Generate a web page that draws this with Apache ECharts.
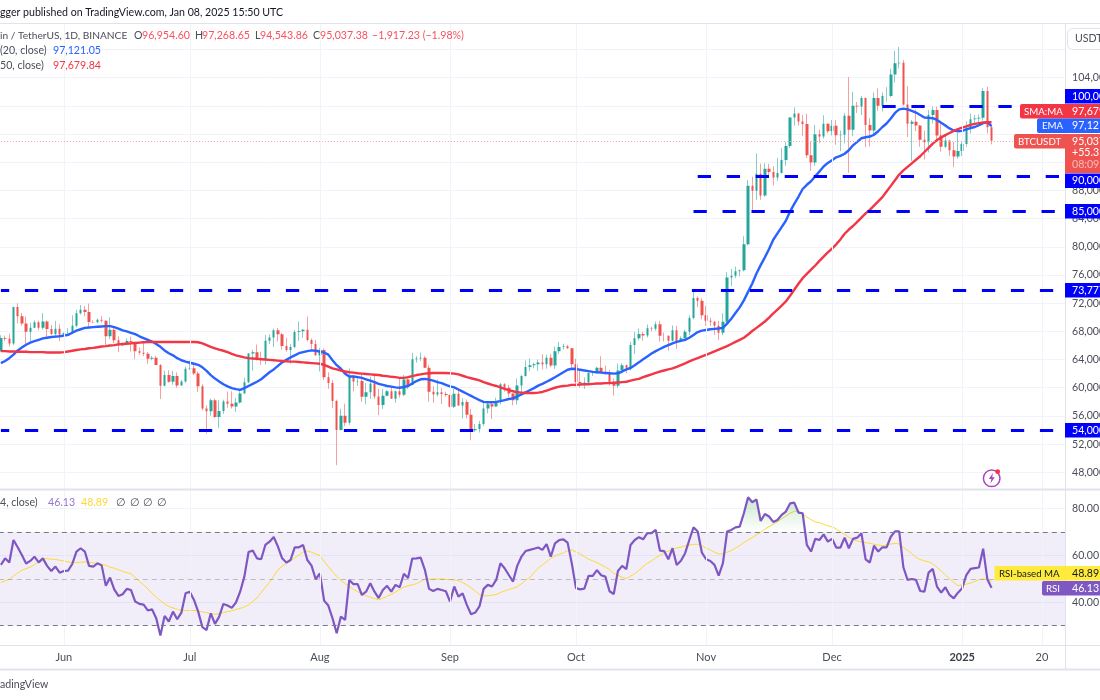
<!DOCTYPE html>
<html lang="en">
<head>
  <meta charset="UTF-8">
  <title>BTCUSDT 1D</title>
  <script src="https://cdn.jsdelivr.net/npm/echarts@6/dist/echarts.min.js"></script>
  <style>
    * { margin: 0; padding: 0; }
    html, body { width: 100%; height: 100%; background: #fff; overflow: hidden; }
    #chartbox { width: 1100px; height: 700px; }
  </style>
</head>
<body>
<div id="chartbox"></div>
<script>
  // prices are in thousand USDT, one row per day from 2024-05-17
  // open, close, low, high
  const candles = [
    [65.23,67.05,65.10,67.45],[67.05,66.94,66.60,67.40],[66.94,66.27,65.85,67.70],[66.27,71.45,66.05,71.50],[71.45,70.14,69.15,71.98],
    [70.14,69.12,68.80,70.62],[69.12,67.93,66.10,70.10],[67.93,68.53,66.60,69.22],[68.53,69.28,68.50,69.58],[69.28,68.50,68.15,69.50],
    [68.50,69.40,68.25,70.60],[69.40,68.35,67.20,69.56],[68.35,67.63,67.50,68.90],[67.63,68.36,67.13,69.50],[68.36,67.54,66.60,69.00],
    // Jun
    [67.54,67.75,67.38,67.86],[67.75,67.76,67.30,68.45],[67.76,68.80,67.61,70.28],[68.80,70.57,68.57,71.06],[70.57,71.08,70.40,71.75],
    [71.08,70.76,70.12,71.60],[70.76,69.34,68.50,71.95],[69.34,69.31,69.20,69.57],[69.31,69.65,69.13,69.85],[69.65,69.51,69.23,70.15],
    [69.51,67.32,66.05,69.56],[67.32,68.24,66.90,70.00],[68.24,66.75,66.30,68.45],[66.75,66.01,65.08,67.30],[66.01,66.19,65.88,66.40],
    [66.19,66.64,66.06,66.98],[66.64,66.49,65.13,67.25],[66.49,65.17,64.06,66.55],[65.17,64.96,64.69,65.73],[64.96,64.83,64.50,66.48],
    [64.83,64.10,63.38,65.07],[64.10,64.26,63.90,64.52],[64.26,63.21,63.20,64.52],[63.21,60.28,58.40,63.37],[60.28,61.80,60.20,62.43],
    [61.80,60.86,60.71,62.48],[60.86,61.68,60.43,62.37],[61.68,60.32,60.00,62.19],[60.32,60.89,60.27,61.13],[60.89,62.68,60.70,63.00],
    // Jul
    [62.68,62.75,62.50,63.86],[62.75,62.02,61.80,63.28],[62.02,60.20,59.40,62.30],[60.20,57.04,56.77,60.50],[57.04,56.66,53.48,57.50],
    [56.66,58.23,56.02,58.47],[58.23,55.86,55.73,58.47],[55.86,56.71,54.26,58.24],[56.71,58.04,56.29,58.30],[58.04,57.72,57.16,59.47],
    [57.72,57.34,57.05,59.50],[57.34,57.89,56.59,58.53],[57.89,59.20,57.75,59.85],[59.20,60.79,59.20,61.42],[60.79,64.87,60.65,64.90],
    [64.87,65.04,62.43,65.39],[65.04,64.09,63.85,66.13],[64.09,63.99,63.24,65.10],[63.99,66.66,63.30,67.48],[66.66,67.14,66.22,67.60],
    [67.14,68.16,65.78,68.37],[68.16,67.58,66.55,68.47],[67.58,65.93,65.42,67.80],[65.93,65.37,65.12,67.10],[65.37,65.78,63.40,66.17],
    [65.78,67.90,65.60,68.20],[67.90,68.00,66.65,69.40],[68.00,68.24,67.07,68.32],[68.24,66.78,66.57,70.08],[66.78,66.19,65.30,67.00],
    [66.19,64.62,64.53,66.80],
    // Aug
    [64.62,65.35,62.30,65.66],[65.35,61.50,61.11,65.59],[61.50,60.68,59.85,62.20],[60.68,58.12,57.12,61.12],[58.12,53.99,49.00,58.30],
    [53.99,56.04,53.96,57.00],[56.04,55.03,54.56,57.73],[55.03,61.70,54.73,62.73],[61.70,60.88,59.50,61.80],[60.88,60.94,60.24,61.47],
    [60.94,58.71,58.00,61.85],[58.71,59.35,57.65,60.68],[59.35,60.60,58.40,61.57],[60.60,58.74,58.43,61.80],[58.74,57.56,56.08,59.85],
    [57.56,58.88,57.00,59.84],[58.88,59.50,58.78,59.68],[59.50,58.44,58.42,60.26],[58.44,59.49,57.86,59.62],[59.49,59.01,58.60,61.40],
    [59.01,61.16,58.80,61.80],[61.16,60.38,59.80,61.41],[60.38,64.04,60.35,64.95],[64.04,64.16,63.56,64.50],[64.16,64.25,63.79,64.99],
    [64.25,62.83,62.80,64.48],[62.83,59.42,58.03,63.23],[59.42,59.03,57.85,60.20],[59.03,59.37,58.74,61.18],[59.37,59.12,57.70,59.95],
    [59.12,58.97,58.72,59.43],
    // Sep
    [58.97,57.30,57.20,59.06],[57.30,59.13,57.12,59.81],[59.13,57.49,57.42,59.81],[57.49,57.97,55.60,58.51],[57.97,56.18,55.62,58.32],
    [56.18,53.96,52.55,56.99],[53.96,54.16,53.74,54.85],[54.16,54.87,53.65,55.30],[54.87,57.05,54.59,58.12],[57.05,57.65,56.38,58.04],
    [57.65,57.34,55.55,58.00],[57.34,58.13,57.32,58.59],[58.13,60.50,57.63,60.67],[60.50,60.00,59.45,60.66],[60.00,59.18,58.70,60.40],
    [59.18,58.21,57.50,59.21],[58.21,60.31,57.61,61.32],[60.31,61.65,59.17,61.79],[61.65,62.94,61.57,63.87],[62.94,63.20,62.35,64.13],
    [63.20,63.35,62.76,63.56],[63.35,63.58,62.38,64.00],[63.58,63.34,62.60,64.75],[63.34,64.26,62.70,64.69],[64.26,63.15,62.95,64.80],
    [63.15,65.18,62.67,65.84],[65.18,65.77,64.80,66.50],[65.77,65.88,65.42,66.26],[65.88,65.60,65.50,66.07],[65.60,63.33,62.86,65.62],
    // Oct
    [63.33,60.80,60.16,64.13],[60.80,60.65,60.00,62.39],[60.65,60.75,59.83,61.47],[60.75,62.08,60.46,62.48],[62.08,62.09,61.68,62.37],
    [62.09,62.82,61.99,62.97],[62.82,62.22,62.13,64.48],[62.22,62.13,61.84,63.17],[62.13,60.58,60.30,62.53],[60.58,60.27,58.90,61.32],
    [60.27,62.45,60.00,63.42],[62.45,63.19,62.40,63.48],[63.19,62.85,62.05,63.29],[62.85,66.05,62.45,66.50],[66.05,67.04,64.80,67.95],
    [67.04,67.61,66.75,68.42],[67.61,67.40,66.66,67.94],[67.40,68.43,67.12,68.98],[68.43,68.36,68.02,68.67],[68.36,69.00,68.10,69.40],
    [69.00,67.37,66.53,69.50],[67.37,67.36,66.57,67.83],[67.36,66.68,65.26,67.40],[66.68,68.17,66.56,68.85],[68.17,66.63,65.52,68.77],
    [66.63,67.01,66.60,67.30],[67.01,67.96,66.80,68.22],[67.96,69.91,67.50,70.27],[69.91,72.72,69.73,73.62],[72.72,72.34,71.44,72.96],
    [72.34,70.29,69.68,72.70],
    // Nov
    [70.29,69.50,68.78,71.63],[69.50,69.37,68.77,69.95],[69.37,68.78,67.48,69.48],[68.78,67.81,66.80,69.48],[67.81,69.36,67.45,70.58],
    [69.36,75.64,69.07,76.40],[75.64,75.90,74.42,76.85],[75.90,76.54,75.55,77.20],[76.54,76.67,75.82,76.77],[76.67,80.37,76.50,81.50],
    [80.37,88.65,80.22,89.50],[88.65,87.95,85.07,89.94],[87.95,90.37,86.62,93.26],[90.37,87.27,86.67,91.79],[87.27,91.06,87.10,91.85],
    [91.06,90.60,90.05,91.78],[90.60,89.85,88.72,91.45],[89.85,90.46,89.38,92.59],[90.46,92.31,90.41,94.00],[92.31,94.29,91.50,94.90],
    [94.29,98.35,94.03,98.40],[98.35,98.90,97.20,99.80],[98.90,97.78,97.20,99.00],[97.78,97.43,95.75,98.70],[97.43,92.98,92.60,98.87],
    [92.98,91.95,90.79,94.95],[91.95,95.96,91.50,97.30],[95.96,95.64,94.70,96.65],[95.64,97.46,95.35,98.67],[97.46,96.40,96.10,97.50],
    // Dec
    [96.40,97.18,95.80,98.00],[97.18,95.84,94.48,98.00],[95.84,95.90,93.58,96.50],[95.90,98.59,94.66,99.00],[98.59,96.60,90.50,104.09],
    [96.60,100.00,95.70,102.00],[100.00,99.90,99.00,100.56],[99.90,101.10,98.70,101.40],[101.10,97.30,94.15,101.20],[97.30,96.50,94.25,98.27],
    [96.50,101.10,95.67,101.90],[101.10,100.00,99.30,102.50],[100.00,101.40,99.20,101.90],[101.40,101.40,100.60,102.65],[101.40,104.45,101.23,105.25],
    [104.45,106.06,103.30,107.80],[106.06,106.13,105.30,108.35],[106.13,100.20,100.00,106.50],[100.20,97.47,95.60,102.80],[97.47,97.75,92.20,98.00],
    [97.75,97.20,96.40,99.50],[97.20,95.20,94.20,97.30],[95.20,94.85,92.40,96.50],[94.85,98.70,93.40,99.40],[98.70,99.40,97.50,99.90],
    [99.40,95.80,95.10,99.90],[95.80,94.20,93.50,97.50],[94.20,95.10,94.00,95.70],[95.10,93.70,92.90,95.20],[93.70,92.80,91.30,94.90],
    [92.80,93.58,92.50,96.15],
    // Jan
    [93.58,94.59,92.90,95.00],[94.59,96.90,94.20,97.80],[96.90,98.10,96.10,98.90],[98.10,98.20,97.50,98.70],[98.20,98.30,97.25,98.80],
    [98.30,102.10,97.90,102.50],[102.10,96.95,96.10,102.70],[96.95,95.04,94.54,97.27]
  ]

  const ema20 = [
    63.5,63.8,64.2,64.7,65.3,65.7,66.1,66.4,66.6,66.8,67.0,67.1,67.2,67.25,67.3,
    67.4,67.5,67.8,68.1,68.3,68.5,68.55,68.6,68.65,68.7,68.75,68.75,68.6,68.4,68.15,68.0,67.8,67.6,67.3,67.05,66.8,66.55,66.2,65.8,65.3,64.9,64.6,64.2,63.9,63.7,
    63.55,63.4,63.25,62.9,62.4,61.8,61.3,60.9,60.5,60.2,59.95,59.8,59.7,59.95,60.25,60.55,60.85,61.2,61.7,62.2,62.6,63.1,63.6,63.95,64.3,64.6,64.9,65.05,65.2,65.3,65.25,
    65.15,65.0,64.7,63.9,63.2,62.7,62.0,61.6,61.6,61.5,61.4,61.2,61.0,60.8,60.55,60.4,60.25,60.15,60.05,60.0,60.1,60.25,60.6,60.95,61.2,61.25,61.15,61.0,60.8,60.65,60.4,
    60.2,60.05,59.75,59.45,59.15,58.85,58.55,58.25,58.0,57.95,57.95,58.0,58.1,58.25,58.4,58.5,58.75,59.05,59.35,59.65,59.95,60.3,60.55,60.85,61.15,61.5,61.85,62.2,62.55,62.7,
    62.65,62.55,62.45,62.35,62.25,62.2,62.15,62.1,62.05,62.0,62.05,62.3,62.6,62.8,63.2,63.6,64.05,64.45,64.85,65.2,65.5,65.8,66.05,66.3,66.5,66.65,66.8,67.1,67.5,67.9,68.1,
    68.2,68.3,68.35,68.4,68.5,69.1,69.8,70.6,71.4,72.4,73.6,74.8,76.2,77.4,78.5,79.7,81.0,81.9,82.8,83.7,85.0,86.1,87.1,88.2,88.8,89.3,90.0,90.7,91.4,91.9,
    92.3,92.7,92.9,93.2,93.7,94.4,94.9,95.4,95.55,95.65,95.9,96.4,97.0,97.5,98.2,99.0,99.5,99.6,99.5,99.3,99.05,98.7,98.35,98.3,98.25,98.0,97.6,97.2,96.8,96.5,96.4,
    96.45,96.65,96.85,97.0,97.25,97.55,97.7,97.12
  ]

  const sma50 = [
    65.2,65.2,65.15,65.15,65.1,65.1,65.1,65.05,65.05,65.05,65.05,65.0,65.0,65.0,65.0,
    65.05,65.15,65.25,65.35,65.45,65.5,65.6,65.65,65.75,65.85,65.9,66.0,66.05,66.15,66.2,66.25,66.3,66.35,66.4,66.45,66.5,66.5,66.5,66.5,66.5,66.5,66.5,66.5,66.5,66.5,
    66.5,66.5,66.45,66.3,66.05,65.8,65.6,65.4,65.25,65.05,64.8,64.6,64.45,64.3,64.2,64.15,64.1,64.05,64.0,63.95,63.9,63.85,63.8,63.75,63.7,63.7,63.65,63.6,63.55,63.5,63.45,
    63.4,63.25,63.0,62.75,62.6,62.45,62.3,62.2,62.15,62.05,62.0,61.95,61.9,61.85,61.8,61.7,61.65,61.55,61.5,61.4,61.4,61.5,61.65,61.8,61.9,62.0,62.05,62.1,62.1,62.1,62.1,
    62.05,62.0,61.9,61.7,61.5,61.35,61.2,61.05,60.8,60.6,60.4,60.25,60.05,59.85,59.65,59.5,59.35,59.3,59.25,59.25,59.25,59.3,59.4,59.6,59.8,60.0,60.15,60.25,60.3,60.4,
    60.4,60.45,60.5,60.5,60.55,60.6,60.6,60.65,60.65,60.7,60.75,60.8,60.85,61.0,61.15,61.25,61.5,61.7,61.9,62.1,62.3,62.45,62.6,62.75,62.95,63.2,63.45,63.75,64.0,64.2,64.45,
    64.65,64.9,65.15,65.4,65.65,65.9,66.2,66.5,66.8,67.1,67.55,68.05,68.5,68.95,69.4,69.95,70.55,71.1,71.65,72.25,73.05,73.9,74.75,75.55,76.15,76.75,77.35,78.0,78.6,79.2,
    79.75,80.35,81.05,81.85,82.45,82.95,83.55,84.15,84.75,85.25,85.85,86.45,87.05,87.85,88.65,89.45,90.25,90.85,91.35,91.85,92.35,92.85,93.45,94.05,94.65,95.15,95.5,95.85,96.15,96.45,96.7,
    96.9,97.1,97.3,97.45,97.55,97.65,97.68,97.68
  ]

  const rsi = [
    55.9,58.7,56.9,66.5,63.4,60.1,56.5,57.6,59.4,57.0,58.7,55.5,53.3,55.2,52.6,
    53.3,53.5,56.3,61.6,63.0,61.6,55.5,55.2,56.6,55.7,47.0,50.5,45.5,42.7,43.4,45.7,45.2,40.3,39.3,39.0,36.5,37.0,33.2,25.8,34.2,31.8,36.0,32.8,35.6,43.8,
    44.5,41.0,36.0,29.4,28.2,35.3,30.8,33.9,39.3,38.6,37.6,39.9,44.5,50.9,61.4,62.0,58.7,58.3,64.4,65.8,67.8,63.7,58.7,56.9,58.0,63.4,63.4,64.4,58.0,55.6,49.8,
    52.3,40.7,38.6,33.2,26.8,33.9,32.5,49.5,47.7,47.7,43.1,44.5,48.1,44.5,41.8,45.2,47.0,44.5,47.4,46.4,52.1,50.3,58.6,58.7,59.0,53.8,45.7,44.8,45.7,45.2,44.7,
    40.3,46.7,42.4,43.8,38.9,34.9,35.6,38.2,45.7,47.4,46.7,49.5,56.6,54.5,51.6,48.8,55.5,59.4,61.8,62.3,62.8,63.3,62.3,64.8,59.4,65.1,66.5,66.8,65.4,56.6,
    46.0,45.5,45.8,51.2,51.2,53.7,51.5,50.9,44.7,43.5,53.3,55.5,54.1,64.4,66.5,67.7,66.8,69.4,69.4,70.8,62.0,61.8,58.3,63.0,55.9,57.7,60.9,66.5,71.9,70.1,61.1,
    58.3,57.6,55.9,51.3,56.6,70.1,70.8,71.9,72.2,77.9,84.7,82.6,83.8,74.6,77.6,76.5,74.2,75.0,77.2,78.6,82.1,82.4,78.2,77.9,64.4,61.6,67.0,66.5,68.9,65.8,
    67.0,63.3,63.3,67.5,63.0,67.0,67.5,69.4,58.3,56.9,64.1,61.6,63.4,63.4,67.9,70.2,70.2,54.9,49.5,49.9,49.5,44.8,44.5,52.6,54.2,46.7,44.1,46.4,43.1,41.7,44.1,
    46.0,51.6,54.2,54.5,54.8,62.8,49.8,46.13
  ]

  const rsiMa = [
    48.4,49.1,49.8,51.2,52.5,53.6,54.3,55.0,56.0,57.0,58.4,58.6,58.3,58.2,57.9,
    57.6,57.2,56.9,57.0,57.0,57.2,57.0,56.7,56.5,56.2,55.7,55.0,54.5,53.8,53.2,52.6,52.1,50.6,48.9,47.4,45.7,43.8,42.1,40.7,39.4,38.2,37.6,37.0,36.5,36.5,
    36.5,36.5,36.3,35.9,35.6,35.2,34.9,35.2,35.6,36.0,36.3,36.9,37.4,38.0,38.9,40.4,41.8,44.1,46.4,48.5,51.1,53.8,55.3,56.5,57.6,58.9,60.1,61.4,61.8,61.3,60.6,
    59.9,57.4,55.2,53.0,51.1,49.2,47.9,46.8,45.5,44.5,43.4,42.8,42.1,41.6,41.0,41.7,42.6,43.3,44.4,45.5,46.5,47.0,47.4,47.9,48.9,49.8,49.8,49.9,49.9,49.9,49.8,
    49.6,49.5,49.2,48.4,47.4,46.2,44.8,43.4,42.7,42.8,43.0,43.3,44.1,44.8,45.4,46.0,46.5,47.9,49.4,50.5,52.6,54.5,55.9,57.3,58.7,59.7,60.4,61.1,62.0,62.3,
    61.4,60.6,59.4,58.4,57.6,56.9,55.9,55.0,53.9,52.3,51.5,50.6,50.1,51.1,52.2,53.6,55.2,56.6,57.6,58.9,60.0,61.1,61.8,62.6,63.1,63.5,64.0,64.4,64.7,64.7,64.0,
    63.1,62.3,61.3,60.6,60.7,61.3,62.0,63.1,64.1,65.4,66.5,67.5,68.7,69.8,71.1,72.2,73.3,74.3,75.6,76.7,77.9,78.7,78.9,77.6,76.3,75.2,74.2,73.9,73.2,72.5,
    72.1,71.2,70.0,68.9,67.7,66.8,66.1,65.7,65.4,65.1,64.7,64.3,64.1,64.4,64.8,65.1,64.8,63.4,62.1,60.7,59.1,58.2,57.6,57.2,56.3,54.9,53.3,51.6,50.1,48.4,47.1,
    47.4,47.7,48.2,48.9,49.6,49.9,49.8,48.89
  ]

  const priceTicks = [48, 52, 56, 60, 64, 68, 72, 76, 80, 84, 88, 92, 96, 100, 104, 108]
  const priceLabels = [48, 52, 56, 60, 64, 68, 72, 76, 80, 84, 88, 104]
  const rsiTicks = [40, 60, 80]
  const rsiBands = [70, 50, 30]
  const timeDates = ['2024-06-01', '2024-07-01', '2024-08-01', '2024-09-01', '2024-10-01', '2024-11-01', '2024-12-01', '2025-01-01', '2025-01-20']
  const timeNames = ['Jun', 'Jul', 'Aug', 'Sep', 'Oct', 'Nov', 'Dec', '2025', '20']
  const lastPrice = 95.037

  // value and first day of each hand-drawn level
  const levels = [
    [100, '2024-12-13'],
    [90, '2024-10-30'],
    [85, '2024-10-29'],
    [73.777, '2024-05-17'],
    [54, '2024-05-17']
  ]

  // daily slots, the axis runs on past the last candle
  let categories = []
  for (let i = 0; i < 254; i++) {
    let d = new Date(Date.UTC(2024, 4, 17 + i))
    categories.push(d.toISOString().slice(0, 10))
  }

  const FONT = 'Lato, sans-serif'
  const GRID_LINE = '#f0f3fa'
  const BORDER = '#e0e3eb'
  const RED = '#f23645'
  const BLUE = '#2962ff'
  const UP = '#26a69a'
  const DOWN = '#ef5350'

  let myChart = echarts.init(document.getElementById('chartbox'))

  function timeLine(gridNo) {
    // month lines go through the day centres, so they are mark lines
    return {
      type: 'line',
      xAxisIndex: gridNo,
      yAxisIndex: gridNo,
      data: [],
      z: 0,
      silent: true,
      markLine: {
        silent: true,
        symbol: 'none',
        label: { show: false },
        lineStyle: { color: GRID_LINE, width: 1, type: 'solid' },
        data: timeDates.map(d => ({ xAxis: d }))
      }
    }
  }

  function levelLines() {
    let lines = levels.map(l => [
      { xAxis: l[1], yAxis: l[0], lineStyle: { color: '#0000ff', width: 3, type: [13.3, 15.7], dashOffset: l[1] === categories[0] ? 5 : 0 } },
      { xAxis: categories[253], yAxis: l[0] }
    ])
    lines.push([
      { xAxis: categories[0], yAxis: lastPrice, lineStyle: { color: '#f7a1a8', width: 1, type: [1, 2] } },
      { xAxis: categories[253], yAxis: lastPrice }
    ])
    return lines
  }

  let option = {
    backgroundColor: '#fff',
    animation: false,
    textStyle: { fontFamily: FONT },
    grid: [
      { left: -1.2, width: 1066.2, top: 23, height: 466, outerBoundsMode: 'none' },
      { left: -1.2, width: 1066.2, top: 490, height: 155, outerBoundsMode: 'none' }
    ],
    xAxis: [
      {
        type: 'category',
        gridIndex: 0,
        data: categories,
        axisLine: { show: false },
        axisTick: { show: false },
        axisLabel: { show: false },
        splitLine: { show: false }
      },
      {
        type: 'category',
        gridIndex: 1,
        data: categories,
        axisLine: { show: false },
        axisTick: { show: false },
        splitLine: { show: false },
        axisLabel: {
          color: '#4a4e57',
          fontSize: 11,
          margin: 7,
          interval: (i, v) => timeDates.indexOf(v) >= 0,
          formatter: v => {
            let name = timeNames[timeDates.indexOf(v)]
            return name === '2025' ? '{b|2025}' : name
          },
          rich: { b: { fontWeight: 'bold', fontSize: 11, color: '#3a3e47' } }
        }
      }
    ],
    yAxis: [
      {
        type: 'value',
        gridIndex: 0,
        position: 'right',
        min: 45.63,
        max: 111.76,
        axisLine: { show: false },
        axisTick: { show: false, customValues: priceTicks },
        splitLine: { lineStyle: { color: GRID_LINE, width: 1 } },
        axisLabel: {
          customValues: priceLabels,
          color: '#4a4e57',
          fontSize: 10.6,
          margin: 7,
          formatter: v => (v * 1000).toLocaleString('en-US') + '.00'
        }
      },
      {
        type: 'value',
        gridIndex: 1,
        position: 'right',
        min: 21.8,
        max: 87.8,
        axisLine: { show: false },
        axisTick: { show: false, customValues: rsiTicks },
        splitLine: { lineStyle: { color: GRID_LINE, width: 1 } },
        axisLabel: {
          customValues: rsiTicks,
          color: '#4a4e57',
          fontSize: 10.6,
          margin: 7,
          formatter: v => v + '.00'
        }
      }
    ],
    series: [
      timeLine(0),
      timeLine(1),
      {
        // pale wicks under the solid bodies
        name: 'BTCUSDT wicks',
        type: 'candlestick',
        xAxisIndex: 0,
        yAxisIndex: 0,
        barWidth: 1,
        itemStyle: { color: UP, color0: DOWN, borderColor: UP, borderColor0: DOWN, borderWidth: 1, opacity: 0.55 },
        data: candles,
        z: 2
      },
      {
        name: 'BTCUSDT',
        type: 'candlestick',
        xAxisIndex: 0,
        yAxisIndex: 0,
        barWidth: 3,
        itemStyle: { color: UP, color0: DOWN, borderWidth: 0 },
        data: candles,
        z: 2
      },
      {
        name: 'EMA',
        type: 'line',
        xAxisIndex: 0,
        yAxisIndex: 0,
        showSymbol: false,
        lineStyle: { color: BLUE, width: 2.4 },
        data: ema20,
        z: 3
      },
      {
        name: 'SMA',
        type: 'line',
        xAxisIndex: 0,
        yAxisIndex: 0,
        showSymbol: false,
        lineStyle: { color: RED, width: 2.4 },
        data: sma50,
        z: 4,
        markLine: {
          silent: true,
          symbol: 'none',
          label: { show: false },
          data: levelLines()
        }
      },
      {
        name: 'RSI-based MA',
        type: 'line',
        xAxisIndex: 1,
        yAxisIndex: 1,
        showSymbol: false,
        lineStyle: { color: '#fdd835', width: 1 },
        data: rsiMa,
        z: 3,
        markArea: {
          silent: true,
          itemStyle: { color: 'rgba(126,87,194,0.1)' },
          data: [[{ yAxis: 30 }, { yAxis: 70 }]]
        },
        markLine: {
          silent: true,
          symbol: 'none',
          label: { show: false },
          lineStyle: { color: '#787b86', width: 1, type: [5, 4] },
          // the middle band is fainter in the platform's RSI
          data: rsiBands.map(v => ({ yAxis: v, lineStyle: { opacity: v === 50 ? 0.45 : 1 } }))
        }
      },
      {
        name: 'RSI',
        type: 'line',
        xAxisIndex: 1,
        yAxisIndex: 1,
        showSymbol: false,
        lineStyle: { color: '#7e57c2', width: 2.2 },
        // green only shows above the 70 band
        areaStyle: {
          origin: 70,
          color: new echarts.graphic.LinearGradient(0, 497, 0, 532, [
            { offset: 0, color: 'rgba(76,175,80,0.42)' },
            { offset: 1, color: 'rgba(76,175,80,0)' }
          ], true)
        },
        data: rsi,
        z: 4
      }
    ],
    graphic: { elements: buildDecor() }
  }

  function txt(text, x, y, fill, size) {
    return {
      type: 'text',
      silent: true,
      z: 120,
      style: {
        text: text, x: x, y: y, fill: fill,
        font: (size || 10.6) + 'px ' + FONT, verticalAlign: 'middle'
      }
    }
  }

  function box(x, y, w, h, fill, r) {
    return {
      type: 'rect',
      silent: true,
      z: 110,
      shape: { x: x, y: y, width: w, height: h, r: r || 0 },
      style: { fill: fill }
    }
  }

  function line(x1, y1, x2, y2, w) {
    return {
      type: 'line',
      silent: true,
      z: 100,
      shape: { x1: x1, y1: y1, x2: x2, y2: y2 },
      style: { stroke: BORDER, lineWidth: w || 1 }
    }
  }

  function buildDecor() {
    const DARK = '#131722'
    const TITLE = '#4a4e57'
    const PRICE = '#f7525f'
    const TAG = 9.7
    let els = [
      line(0, 23.5, 1100, 23.5),
      line(0, 489.5, 1100, 489.5, 2),
      line(0, 645.5, 1100, 645.5, 1),
      line(0, 669.5, 1100, 669.5, 2),
      line(1065.5, 23, 1065.5, 669),

      txt('gger published on TradingView.com, Jan 08, 2025 15:50 UTC', 0, 13, DARK),
      txt('in / TetherUS, 1D, BINANCE', 0, 36, TITLE, 10.2),
      txt('O', 134, 36, TITLE), txt('96,954.60', 142, 36, PRICE),
      txt('H', 195, 36, TITLE), txt('97,268.65', 202, 36, PRICE),
      txt('L', 255, 36, TITLE), txt('94,543.86', 260, 36, PRICE),
      txt('C', 313, 36, TITLE), txt('95,037.38', 320, 36, PRICE),
      txt('\u22121,917.23 (\u22121.98%)', 372, 36, PRICE),
      txt('(20, close)', 0, 51, TITLE), txt('97,121.05', 53, 51, BLUE),
      txt('50, close)', 0, 66, TITLE), txt('97,679.84', 53, 66, RED),
      txt('4, close)', 0, 503, TITLE), txt('46.13', 48, 503, '#9575cd'), txt('48.89', 81, 503, '#fdd835'),
      txt('\u2205', 116, 503, TITLE), txt('\u2205', 130, 503, TITLE), txt('\u2205', 143, 503, TITLE), txt('\u2205', 157, 503, TITLE),
      txt('adingView', 0, 685, TITLE),

      // currency button
      {
        type: 'rect', silent: true, z: 105,
        shape: { x: 1067.5, y: 28.5, width: 50, height: 21, r: 5 },
        style: { fill: '#fff', stroke: BORDER, lineWidth: 1 }
      },
      txt('USDT', 1075, 39, TITLE),

      // level tags on the price axis, moved apart the way the platform does
      box(1065, 89, 35, 14.5, '#0000ff'), txt('100,000.00', 1072, 96.5, '#fff'),
      box(1020, 104, 45, 14.5, RED, [2, 0, 0, 2]), txt('SMA:MA', 1024, 111.5, '#fff', TAG),
      box(1065, 104, 35, 14.5, RED), txt('97,679.84', 1072, 111.5, '#fff'),
      box(1037, 118.5, 28, 14.5, BLUE, [2, 0, 0, 2]), txt('EMA', 1042, 126, '#fff', TAG),
      box(1065, 118.5, 35, 14.5, BLUE), txt('97,121.05', 1072, 126, '#fff'),
      box(1014, 134, 51, 14.5, DOWN, [2, 0, 0, 2]), txt('BTCUSDT', 1018, 141.5, '#fff', TAG),
      box(1065, 134, 35, 39, DOWN),
      txt('95,037.38', 1072, 141.5, '#fff'), txt('+55.31', 1072, 153, '#fff'), txt('08:09:16', 1072, 165, 'rgba(255,255,255,0.6)'),
      box(1065, 173.5, 35, 14.5, '#0000ff'), txt('90,000.00', 1072, 181, '#fff'),
      box(1065, 204, 35, 14.5, '#0000ff'), txt('85,000.00', 1072, 211.5, '#fff'),
      box(1065, 283, 35, 14.5, '#0000ff'), txt('73,777.00', 1072, 290.5, '#fff'),
      box(1065, 423, 35, 14.5, '#0000ff'), txt('54,000.00', 1072, 430.5, '#fff'),

      // RSI tags
      box(994.5, 566, 70.5, 14.5, '#ffeb3b'), txt('RSI-based MA', 999, 573.5, DARK, TAG),
      box(1065, 566, 35, 14.5, '#ffeb3b'), txt('48.89', 1072, 573.5, DARK),
      box(1042, 581, 23, 14.5, '#7e57c2', [2, 0, 0, 2]), txt('RSI', 1046, 588.5, '#fff', TAG),
      box(1065, 581, 35, 14.5, '#7e57c2'), txt('46.13', 1072, 588.5, '#fff'),

      // news flash icon
      {
        type: 'circle', silent: true, z: 105,
        shape: { cx: 991.7, cy: 478.3, r: 8.3 },
        style: { fill: '#fff', stroke: '#ab47bc', lineWidth: 1.5 }
      },
      {
        type: 'polygon', silent: true, z: 106,
        shape: { points: [[993, 473], [988.8, 479], [991.4, 479], [990.4, 483.5], [994.8, 477.3], [992.2, 477.3]] },
        style: { fill: '#ab47bc' }
      },
      {
        type: 'circle', silent: true, z: 107,
        shape: { cx: 997.7, cy: 471.7, r: 2.4 },
        style: { fill: '#f23645' }
      }
    ]
    return els
  }

  myChart.setOption(option)
</script>
</body>
</html>
